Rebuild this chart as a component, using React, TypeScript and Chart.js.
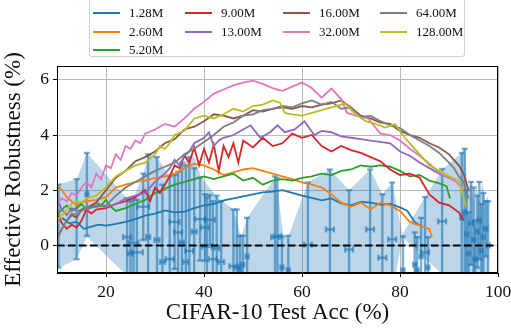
import React, { useEffect, useRef } from "react";
import { Chart, registerables } from "chart.js";

Chart.register(...registerables);

const FONT = '"Liberation Serif", "DejaVu Serif", serif';

// ---------------- series (x = CIFAR-10 test acc, y = effective robustness) ----------------
const labels = ["1.28M", "2.60M", "5.20M", "9.00M", "13.00M", "16.00M", "32.00M", "64.00M", "128.00M"];
const colors = ["#1f77b4", "#ff7f0e", "#2ca02c", "#d62728", "#9467bd", "#8c564b", "#e377c2", "#7f7f7f", "#bcbd22"];

const x128k = [11, 12.5, 14, 15.5, 17, 18.5, 20, 22, 24, 26, 28, 30, 32, 34, 36, 38, 40, 42, 44, 46, 48, 50, 52, 54, 56, 58, 60, 62, 64, 66, 68, 70, 72, 74, 76, 78, 80, 81.5, 83, 84];
const y128k = [1.0, 0.8, 0.85, 0.6, 0.68, 0.75, 0.72, 0.78, 0.85, 0.95, 1.08, 1.15, 1.27, 1.2, 1.22, 1.35, 1.45, 1.5, 1.63, 1.7, 1.78, 1.85, 1.92, 1.95, 2.0, 1.9, 1.8, 1.72, 1.63, 1.7, 1.52, 1.45, 1.58, 1.55, 1.48, 1.5, 1.38, 1.25, 0.85, 0.72];

const x260 = [10, 11, 12, 13, 14, 15, 16, 18, 20, 22, 24, 26, 28, 30, 32, 34, 36, 38, 40, 42, 44, 46, 48, 50, 52, 54, 56, 58, 60, 62, 64, 66, 68, 70, 72, 74, 76, 78, 80, 82, 84, 86, 86.5];
const y260 = [2.2, 2.0, 1.75, 1.6, 1.45, 1.55, 1.6, 1.65, 1.75, 2.1, 2.2, 2.3, 2.35, 2.45, 2.5, 2.6, 2.8, 2.95, 2.9, 2.75, 2.55, 2.65, 2.75, 2.8, 2.7, 2.6, 2.5, 2.4, 2.28, 2.2, 2.1, 1.85, 1.55, 1.4, 1.55, 1.3, 1.55, 1.45, 1.25, 0.85, 0.72, 0.6, 0.3];

const x520 = [10, 11, 12, 13, 14, 15, 16, 17, 18, 19, 20, 21, 22, 24, 26, 28, 30, 32, 34, 36, 38, 40, 42, 44, 46, 48, 50, 52, 54, 56, 58, 60, 62, 64, 66, 68, 70, 72, 74, 76, 78, 80, 82, 84, 86, 88, 89.5, 90.2];
const y520 = [1.1, 1.3, 1.45, 1.25, 1.35, 1.5, 1.3, 1.4, 1.55, 1.45, 1.65, 1.4, 1.25, 1.35, 1.5, 1.65, 1.9, 2.05, 2.2, 2.3, 2.4, 2.5, 2.4, 2.5, 2.6, 2.35, 2.45, 2.2, 2.35, 2.4, 2.35, 2.45, 2.5, 2.6, 2.55, 2.7, 2.75, 2.9, 2.85, 2.9, 2.85, 2.7, 2.5, 2.55, 2.35, 2.25, 2.15, 1.7];

const x900 = [10, 11, 12, 13, 14, 15, 16, 17, 18, 20, 22, 24, 26, 28, 29, 30, 31, 32, 33, 34, 35, 36, 37, 38, 39, 40, 41, 42, 43, 44, 45, 46, 47, 48, 50, 52, 54, 56, 58, 60, 62, 64, 66, 68, 70, 72, 74, 76, 78, 80, 82, 84, 86, 88, 90, 92, 93];
const y900 = [1.2, 0.8, 0.6, 0.75, 0.65, 0.9, 1.3, 1.15, 1.3, 1.35, 1.5, 1.6, 1.75, 2.0, 1.6, 2.1, 1.9, 2.2, 2.5, 2.9, 2.8, 3.25, 3.0, 3.55, 2.9, 3.5, 3.0, 3.65, 2.7, 3.6, 3.2, 3.7, 3.0, 3.8, 3.55, 3.9, 3.6, 3.7, 4.05, 3.9, 4.0, 3.6, 3.4, 3.6, 3.45, 3.35, 3.2, 3.05, 2.75, 2.55, 2.6, 2.45, 1.85, 1.55, 1.45, 1.2, 0.9];

const x1300 = [10, 11, 12, 13, 14, 16, 18, 20, 22, 24, 26, 28, 30, 32, 33, 34, 35, 36, 37, 38, 40, 41, 42, 43, 44, 46, 48, 49.5, 51.5, 53.5, 55, 56.5, 58.5, 60.5, 62.5, 64, 66, 68, 70, 72, 74, 76, 78, 80, 82, 84, 86, 88, 90, 91];
const y1300 = [1.7, 1.3, 1.1, 1.35, 1.25, 1.3, 1.45, 1.4, 1.5, 1.7, 1.8, 1.9, 2.3, 2.6, 2.8, 3.1, 2.9, 3.25, 3.4, 3.7, 3.9, 4.1, 3.6, 3.8, 3.9, 4.0, 4.2, 4.35, 3.9, 4.1, 4.35, 4.1, 4.2, 4.5, 4.0, 4.15, 4.1, 3.95, 3.9, 3.85, 3.8, 3.75, 3.7, 3.4, 3.25, 3.0, 2.8, 2.6, 2.45, 2.4];

const x1600 = [10, 11, 12, 13, 14, 15, 16, 18, 20, 22, 24, 26, 28, 30, 32, 34, 36, 38, 40, 42, 44, 46, 48, 50, 52, 54, 56, 58, 60, 62, 64, 66, 68, 70, 72, 74, 76, 78, 80, 82, 84, 86, 88, 90, 92, 93, 94];
const y1600 = [0.3, 0.6, 0.9, 1.1, 1.0, 1.3, 1.35, 1.55, 2.0, 2.45, 2.7, 3.05, 3.2, 3.4, 3.7, 3.85, 4.2, 4.3, 4.5, 4.75, 4.7, 4.6, 4.7, 4.9, 4.85, 4.95, 5.0, 4.95, 5.05, 5.0, 5.1, 5.15, 5.25, 5.0, 4.7, 4.6, 4.45, 4.4, 4.15, 4.0, 3.9, 3.7, 3.55, 3.3, 2.9, 2.6, 2.0];

const x3200 = [10, 11, 12, 13, 14, 15, 16, 17, 18, 19, 20, 21, 22, 23, 24, 25, 26, 27, 28, 30, 32, 34, 36, 38, 40, 42, 44, 46, 48, 50, 52, 54, 56, 58, 60, 62, 64, 66, 68, 69.2, 71, 73.5, 76, 78, 80, 82, 84, 86, 88, 90, 91.5, 93];
const y3200 = [1.5, 1.7, 1.6, 1.9, 1.8, 2.1, 2.3, 2.1, 2.6, 2.4, 2.9, 2.8, 3.3, 3.1, 3.6, 3.5, 3.8, 3.7, 4.05, 4.2, 4.4, 4.3, 4.6, 4.95, 5.2, 5.5, 5.65, 5.8, 5.9, 5.97, 5.85, 5.7, 5.6, 5.75, 5.9, 5.7, 5.35, 5.68, 5.3, 4.8, 4.7, 4.6, 4.05, 4.0, 3.8, 3.5, 3.25, 2.96, 2.64, 2.46, 2.3, 2.0];

const x6400 = [10, 11, 12, 13, 14, 15, 16, 18, 20, 22, 24, 26, 28, 30, 32, 34, 36, 38, 40, 42, 44, 46, 48, 50, 52, 54, 56, 58, 60, 62, 64, 66, 68, 70, 72, 74, 76, 78, 80, 82, 84, 86, 88, 90, 91, 92, 93, 94];
const y6400 = [0.2, 0.6, 0.9, 1.15, 1.1, 1.25, 1.35, 1.4, 1.45, 1.8, 2.1, 2.3, 2.5, 2.7, 2.85, 3.0, 3.3, 3.5, 3.75, 4.0, 4.3, 4.45, 4.7, 4.75, 4.9, 4.95, 5.05, 5.0, 5.15, 5.25, 5.1, 5.2, 4.95, 5.0, 4.65, 4.7, 4.5, 4.35, 4.25, 4.0, 3.8, 3.6, 3.35, 3.0, 2.8, 2.5, 2.3, 1.7];

const x12800 = [10, 11, 12, 13, 14, 15, 16, 18, 20, 22, 24, 26, 28, 30, 31, 32, 33, 34, 36, 38, 40, 42, 44, 46, 48, 50, 52, 54, 55.5, 56.5, 58, 60, 62, 64, 66, 68.8, 70.8, 73, 75, 77, 79, 81, 82.5, 84, 86, 88, 90, 92, 93, 93.5];
const y12800 = [0.9, 1.1, 1.3, 1.5, 1.6, 1.55, 1.7, 1.8, 2.1, 2.5, 2.7, 2.9, 3.0, 3.3, 3.6, 3.5, 3.7, 4.0, 4.15, 4.6, 4.7, 4.6, 4.75, 4.95, 4.85, 5.05, 5.1, 5.25, 5.17, 4.8, 4.75, 4.7, 4.8, 4.9, 5.0, 5.14, 4.77, 4.5, 4.4, 4.27, 4.4, 3.9, 3.6, 3.3, 2.9, 2.7, 2.5, 2.35, 1.7, 1.4];

const seriesX = [x128k, x260, x520, x900, x1300, x1600, x3200, x6400, x12800];
const seriesY = [y128k, y260, y520, y900, y1300, y1600, y3200, y6400, y12800];

// ---------------- scatter with error bars ----------------
const ebX = [10.3, 14.0, 16.1, 24.3, 25.0, 25.6, 26.3, 27.6, 28.6, 30.4, 31.5, 33.0, 34.0, 34.7, 35.5, 36.3, 37.0, 38.0, 39.2, 40.2, 40.6, 41.2, 41.8, 42.6, 43.5, 46.0, 46.7, 47.3, 47.9, 48.8, 54.5, 55.0, 55.9, 57.2, 61.2, 65.7, 69.6, 73.9, 76.4, 78.4, 80.6, 83.0, 83.5, 84.3, 85.1, 85.7, 88.6, 92.6, 93.2, 93.6, 94.0, 94.5, 95.0, 95.3, 95.8, 96.2, 96.6, 97.0, 97.5, 98.0];
const ebY = [0.7, 0.95, 1.85, 0.3, -0.3, 0.1, -0.25, 1.4, 0.3, 0.2, -0.6, -0.5, 0.85, 0.47, 0.1, -0.6, -0.2, 0.5, 0.95, 0.65, -0.05, 0.93, -0.5, -0.1, -0.6, -0.75, -0.8, -0.9, -0.7, -0.4, 0.3, 0.33, -0.8, -0.9, 0.03, 0.58, -0.15, 0.58, -0.45, 0.22, -0.9, -0.7, -0.9, -0.4, -0.25, -0.8, 0.87, 1.0, 1.2, 0.4, -0.3, 0.8, 0.2, -0.5, 0.5, 0.9, -0.2, 0.3, 0.6, 0.0];
const ebXErr = [0, 0, 0.3, 0.8, 0.5, 1.0, 1.2, 1.2, 0.4, 0.5, 0.5, 0.8, 1.0, 0.8, 0.4, 0.5, 0.8, 0.5, 1.0, 0.8, 1.0, 1.0, 0.8, 0.5, 0.6, 0.8, 0.5, 0.3, 0.3, 0.3, 0.8, 0.8, 0.3, 0.3, 0.8, 0.8, 0.8, 0.8, 0.8, 0.8, 0.3, 0.3, 0.3, 0.3, 0.8, 0.3, 0.8, 0.3, 0.3, 0.3, 0.3, 0.4, 0.3, 0.3, 0.3, 0.3, 0.3, 0.3, 0.3, 0.3];
const ebYErr = [1.5, 1.45, 1.5, 1.4, 1.9, 1.6, 1.9, 1.2, 3.0, 3.0, 2.8, 3.0, 1.7, 2.2, 2.9, 3.5, 3.4, 2.3, 1.5, 1.2, 1.8, 0.9, 2.1, 1.9, 2.2, 2.05, 2.1, 1.25, 1.05, 1.4, 2.2, 2.1, 1.13, 1.25, 2.25, 2.17, 2.15, 2.17, 2.3, 2.06, 1.23, 1.17, 1.2, 1.4, 2.0, 1.1, 1.9, 2.35, 2.3, 1.6, 1.5, 1.5, 1.9, 1.4, 1.3, 1.4, 1.7, 1.6, 1.0, 1.6];

// shaded band
const bandX = [10, 14, 16.1, 24.3, 25.6, 27.6, 28.6, 30.4, 33, 34.7, 36.5, 38, 39.5, 42.5, 46, 47.6, 48.8, 54.7, 56.2, 57.3, 61.2, 65.7, 69.6, 73.9, 76.4, 78.4, 80.5, 88.6, 92.6, 93.2, 93.8, 94.4, 95, 95.6, 96.2, 96.8, 97.4, 98];
const bandHi = [2.2, 2.4, 3.35, 1.7, 1.7, 2.6, 3.3, 3.2, 2.5, 2.7, 3.1, 3.2, 2.45, 1.8, 1.3, 0.3, 1.0, 2.5, 0.33, 0.35, 2.28, 2.75, 2.0, 2.75, 1.85, 2.28, 0.4, 2.75, 3.36, 3.53, 2.0, 2.3, 1.6, 2.2, 1.5, 2.3, 1.6, 1.8];
const bandLo = [-0.85, -0.5, 0.3, -1.1, -2, -2, -2.5, -2.5, -2.5, -2, -2.5, -2.5, -2, -2, -2.5, -1.5, -1.5, -2, -2, -2, -2.2, -2, -2.3, -1.6, -2.7, -1.8, 0.3, -1.05, -1.5, -1.2, -1.5, -1.3, -1.7, -1.4, -1.5, -1.6, -1.2, -1.6];

const zeroX = [10, 100];
const zeroY = [0, 0];

const xTicks = [20, 40, 60, 80, 100];
const yTicks = [0, 2, 4, 6];

// legend layout (matplotlib column-major, 4 columns)
const legendCol = [0, 0, 0, 1, 1, 2, 2, 3, 3];
const legendRow = [0, 1, 2, 0, 1, 0, 1, 0, 1];
const colLeft = [93, 185, 283, 380];
const rowTop = [13, 32, 50];

const BLUE_A = "rgba(31,119,180,0.6)";

const bandPlugin = {
  id: "bandErr",
  beforeDatasetsDraw(chart: any) {
    const { ctx, chartArea: a, scales } = chart;
    const sx = scales.x, sy = scales.y;
    ctx.save();
    ctx.beginPath();
    ctx.rect(a.left, a.top, a.right - a.left, a.bottom - a.top);
    ctx.clip();
    ctx.beginPath();
    bandX.forEach((v, i) => {
      const px = sx.getPixelForValue(v), py = sy.getPixelForValue(bandHi[i]);
      if (i === 0) ctx.moveTo(px, py); else ctx.lineTo(px, py);
    });
    for (let i = bandX.length - 1; i >= 0; i--) {
      ctx.lineTo(sx.getPixelForValue(bandX[i]), sy.getPixelForValue(bandLo[i]));
    }
    ctx.closePath();
    ctx.fillStyle = "rgba(31,119,180,0.3)";
    ctx.fill();
    ctx.strokeStyle = BLUE_A;
    ctx.lineWidth = 2.4;
    const seg = (x1: number, y1: number, x2: number, y2: number) => {
      ctx.beginPath();
      ctx.moveTo(x1, y1);
      ctx.lineTo(x2, y2);
      ctx.stroke();
    };
    const cap = 3;
    ebX.forEach((xv, i) => {
      const yv = ebY[i];
      const px = sx.getPixelForValue(xv), py = sy.getPixelForValue(yv);
      const yt = sy.getPixelForValue(yv + ebYErr[i]), yb = sy.getPixelForValue(yv - ebYErr[i]);
      seg(px, yt, px, yb);
      seg(px - cap, yt, px + cap, yt);
      seg(px - cap, yb, px + cap, yb);
      if (ebXErr[i] > 0) {
        const xl = sx.getPixelForValue(xv - ebXErr[i]), xr = sx.getPixelForValue(xv + ebXErr[i]);
        seg(xl, py, xr, py);
        seg(xl, py - cap, xl, py + cap);
        seg(xr, py - cap, xr, py + cap);
      }
    });
    ctx.restore();
  },
  afterDraw(chart: any) {
    const { ctx, chartArea: a } = chart;
    ctx.save();
    ctx.strokeStyle = "#000";
    ctx.lineWidth = 1;
    ctx.strokeRect(Math.round(a.left) + 0.5, Math.round(a.top) + 0.5, Math.round(a.right - a.left) - 1, Math.round(a.bottom - a.top) - 1);
    ctx.restore();
  },
};

export default function App() {
  const ref = useRef<HTMLCanvasElement>(null);
  useEffect(() => {
    const canvas = ref.current!;
    const datasets: any[] = labels.map((lab, i) => ({
      type: "line",
      label: lab,
      data: seriesX[i].map((xv, j) => ({ x: xv, y: seriesY[i][j] })),
      borderColor: colors[i],
      backgroundColor: colors[i],
      borderWidth: 1.8,
      pointRadius: 0,
      tension: 0,
      fill: false,
      order: 20 - i,
    }));
    datasets.push({
      type: "line",
      label: "zero",
      data: zeroX.map((xv, j) => ({ x: xv, y: zeroY[j] })),
      borderColor: "#000",
      borderWidth: 2,
      borderDash: [7.5, 3.5],
      pointRadius: 0,
      fill: false,
      order: -1,
    });
    const chart = new Chart(canvas, {
      type: "line",
      data: { datasets },
      plugins: [bandPlugin],
      options: {
        animation: false,
        responsive: false,
        devicePixelRatio: 1,
        layout: { padding: { top: 66, right: 13, left: 0, bottom: 0 } },
        plugins: { legend: { display: false }, tooltip: { enabled: false } },
        scales: {
          x: {
            type: "linear",
            min: 10,
            max: 100,
            afterBuildTicks: (s: any) => { s.ticks = xTicks.map((v) => ({ value: v })); },
            afterFit: (s: any) => { s.height = 55; s.paddingLeft = 0; s.paddingRight = 0; },
            ticks: { font: { family: FONT, size: 17.5 }, color: "#111", padding: 5, maxRotation: 0 },
            grid: { color: "#b8b8b8", lineWidth: 1, tickLength: 4, tickColor: "#000", tickWidth: 1 },
            border: { display: true, color: "#000", width: 1 },
            title: { display: true, text: "CIFAR-10 Test Acc (%)", font: { family: FONT, size: 23 }, color: "#111", padding: { top: 0, bottom: 1 } },
          },
          y: {
            type: "linear",
            min: -1,
            max: 6.5,
            afterBuildTicks: (s: any) => { s.ticks = yTicks.map((v) => ({ value: v })); },
            afterFit: (s: any) => { s.width = 57; },
            ticks: { font: { family: FONT, size: 17.5 }, color: "#111", padding: 4 },
            grid: { color: "#b8b8b8", lineWidth: 1, tickLength: 4, tickColor: "#000", tickWidth: 1 },
            border: { display: true, color: "#000", width: 1 },
            title: { display: true, text: "Effective Robustness (%)", font: { family: FONT, size: 23 }, color: "#111", padding: { top: 0, bottom: 2 } },
          },
        },
      } as any,
    });
    return () => chart.destroy();
  }, []);

  return (
    <div style={{ position: "fixed", left: 0, top: 0, width: 511, height: 328, background: "#fff", overflow: "hidden" }}>
      <canvas ref={ref} width={511} height={328} style={{ position: "absolute", left: 0, top: 0, width: 511, height: 328 }} />
      <div
        style={{
          position: "absolute", left: 89, top: -3, width: 376, height: 60,
          border: "1px solid #d0d0d0", borderRadius: 3, background: "rgba(255,255,255,0.85)", boxSizing: "border-box",
        }}
      />
      {labels.map((lab, i) => (
        <div key={lab} style={{ position: "absolute", left: colLeft[legendCol[i]], top: rowTop[legendRow[i]] - 9, height: 18, display: "flex", alignItems: "center", fontFamily: FONT, fontSize: 13, color: "#111", whiteSpace: "nowrap" }}>
          <span style={{ display: "inline-block", width: 27, height: 2, background: colors[i], marginRight: 9 }} />
          <span>{lab}</span>
        </div>
      ))}
    </div>
  );
}
